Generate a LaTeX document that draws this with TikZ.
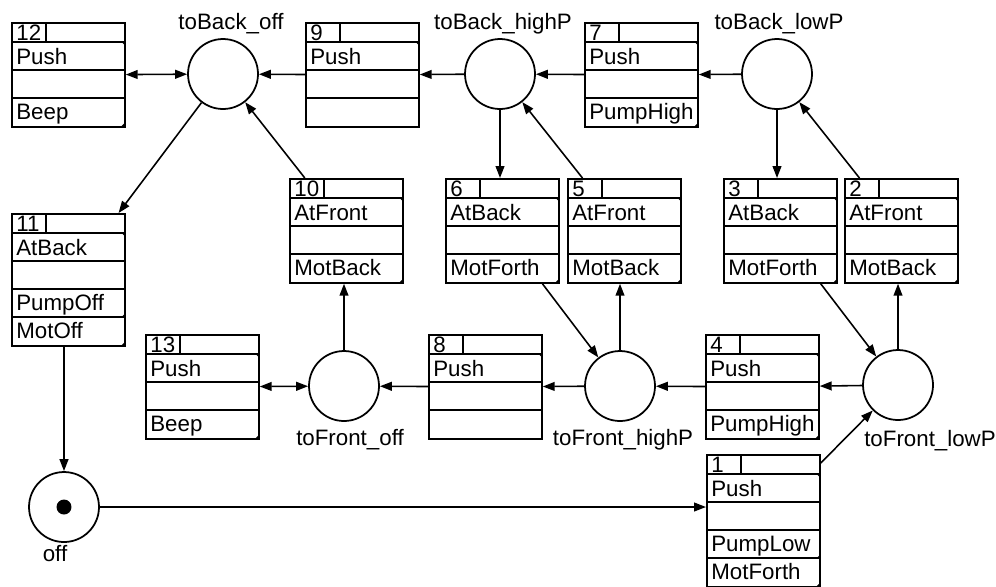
\documentclass[tikz,border=0pt]{standalone}
\usepackage{fontspec}
\setmainfont{Liberation Sans}
\usepackage{tikz}
\usetikzlibrary{arrows.meta,positioning,calc}
\newcommand{\netfont}{\fontsize{12.7}{15}\selectfont}
\tikzset{
  tbox/.style={draw,line width=1pt,minimum width=2.26cm,inner sep=0pt,anchor=north west},
  place/.style={circle,draw,line width=1pt,minimum size=1.4cm,inner sep=0pt},
  celltext/.style={font=\netfont,inner sep=0pt,anchor=base west},
  placetext/.style={font=\netfont,inner sep=0pt,anchor=base},
  flow/.style={line width=0.9pt,-{Triangle[length=6.8pt,width=5pt]}},
  flowboth/.style={line width=0.9pt,{Triangle[length=6.8pt,width=5pt]}-{Triangle[length=6.8pt,width=5pt]}}
}
% transition box: name, top left, number, guard, action
\newcommand{\transbox}[5]{
  \node[tbox,minimum height=2.08cm] (#1) at #2 {};
  \draw[line width=1pt] (#1.north west) ++(35,0) -- ++(0,20);
  \foreach \rowy in {20,48,76} \draw[line width=1pt] (#1.north west) ++(0,\rowy) -- ++(113,0);
  \path (#1.north west) ++(5,18) node[celltext] (#1n) {#3};
  \path (#1.north west) ++(5,42) node[celltext] (#1g) {#4};
  \path (#1.north west) ++(5,97) node[celltext] (#1a) {#5};
  \fill (#1.north east) ++(0,20) -- ++(-4,0) -- ++(4,4) -- cycle;
  \if\relax\detokenize{#5}\relax\else
    \fill (#1.north east) ++(0,104) -- ++(-4,0) -- ++(4,-4) -- cycle;
  \fi
}
% same with two actions
\newcommand{\transboxlong}[6]{
  \node[tbox,minimum height=2.64cm] (#1) at #2 {};
  \draw[line width=1pt] (#1.north west) ++(35,0) -- ++(0,20);
  \foreach \rowy in {20,48,76,104} \draw[line width=1pt] (#1.north west) ++(0,\rowy) -- ++(113,0);
  \path (#1.north west) ++(5,18) node[celltext] (#1n) {#3};
  \path (#1.north west) ++(5,42) node[celltext] (#1g) {#4};
  \path (#1.north west) ++(5,97) node[celltext] (#1a) {#5};
  \path (#1.north west) ++(5,125) node[celltext] (#1b) {#6};
  \fill (#1.north east) ++(0,20) -- ++(-4,0) -- ++(4,4) -- cycle;
  \fill (#1.north east) ++(0,104) -- ++(-4,0) -- ++(4,-4) -- cycle;
  \fill (#1.north east) ++(0,132) -- ++(-4,0) -- ++(4,-4) -- cycle;
}

\begin{document}
\begin{tikzpicture}[x=0.02cm,y=-0.02cm]
  \useasboundingbox (0,0) rectangle (996,586);
  % places
  \node[place] (toBackOff) at (223,74) {};
  \node[place] (toBackHighP) at (500,74) {};
  \node[place] (toBackLowP) at (777,74) {};
  \node[place] (toFrontOff) at (344,386) {};
  \node[place] (toFrontHighP) at (620,386) {};
  \node[place] (toFrontLowP) at (898,385) {};
  \node[place] (off) at (64,507) {};
  \fill (off) circle (0.15cm);
  \node[placetext] (lToBackOff) at (231,29) {toBack\_off};
  \node[placetext] (lToBackHighP) at (503,29) {toBack\_highP};
  \node[placetext] (lToBackLowP) at (779,29) {toBack\_lowP};
  \node[placetext] (lToFrontOff) at (350,445) {toFront\_off};
  \node[placetext] (lToFrontHighP) at (623,445) {toFront\_highP};
  \node[placetext] (lToFrontLowP) at (930,446) {toFront\_lowP};
  \node[placetext] (lOff) at (55,561) {off};
  % transitions
  \transbox{t12}{(11,22)}{12}{Push}{Beep}
  \transbox{t9}{(305,22)}{9}{Push}{}
  \transbox{t7}{(584,22)}{7}{Push}{PumpHigh}
  \transbox{t10}{(289,178)}{10}{AtFront}{MotBack}
  \transbox{t6}{(445,178)}{6}{AtBack}{MotForth}
  \transbox{t5}{(567,178)}{5}{AtFront}{MotBack}
  \transbox{t3}{(723,178)}{3}{AtBack}{MotForth}
  \transbox{t2}{(844,178)}{2}{AtFront}{MotBack}
  \transboxlong{t11}{(11,213)}{11}{AtBack}{PumpOff}{MotOff}
  \transbox{t13}{(145,334)}{13}{Push}{Beep}
  \transbox{t8}{(428,334)}{8}{Push}{}
  \transbox{t4}{(705,334)}{4}{Push}{PumpHigh}
  \transboxlong{t1}{(706,454)}{1}{Push}{PumpLow}{MotForth}
  % arcs
  \draw[flowboth] (t12) -- (toBackOff);
  \draw[flow] (t9) -- (toBackOff);
  \draw[flow] (toBackHighP) -- (t9);
  \draw[flow] (t7) -- (toBackHighP);
  \draw[flow] (toBackLowP) -- (t7);
  \draw[flow] (toBackOff) -- (t11);
  \draw[flow] (t10) -- (toBackOff);
  \draw[flow] (toBackHighP) -- (toBackHighP |- t6.north);
  \draw[flow] (t5) -- (toBackHighP);
  \draw[flow] (toBackLowP) -- (toBackLowP |- t3.north);
  \draw[flow] (t2) -- (toBackLowP);
  \draw[flow] (toFrontOff) -- (toFrontOff |- t10.south);
  \draw[flowboth] (t13) -- (toFrontOff);
  \draw[flow] (t8) -- (toFrontOff);
  \draw[flow] (toFrontHighP) -- (t8);
  \draw[flow] (t6) -- (toFrontHighP);
  \draw[flow] (toFrontHighP) -- (toFrontHighP |- t5.south);
  \draw[flow] (t4) -- (toFrontHighP);
  \draw[flow] (toFrontLowP) -- (t4);
  \draw[flow] (t3) -- (toFrontLowP);
  \draw[flow] (toFrontLowP) -- (toFrontLowP |- t2.south);
  \draw[flow] (t1) -- (toFrontLowP);
  \draw[flow] (off |- t11.south) -- (off);
  \draw[flow] (off) -- (off -| t1.west);
\end{tikzpicture}
\end{document}
